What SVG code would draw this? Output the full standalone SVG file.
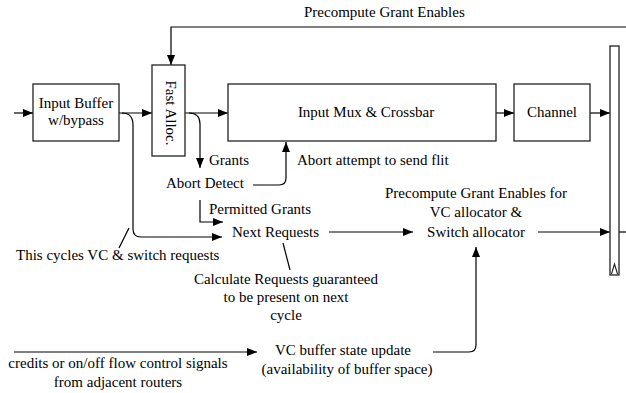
<svg xmlns="http://www.w3.org/2000/svg" width="626" height="393" viewBox="0 0 626 393">
  <style>
    .box { fill: #fff; stroke: #222; stroke-width: 1.3; }
    .ln { fill: none; stroke: #000; stroke-width: 1.2; }
    .arr { marker-end: url(#ah); }
    text { font-family: "Liberation Serif", "Times New Roman", serif; font-size: 15px; fill: #000; }
    .c { text-anchor: middle; }
  </style>
  <defs>
    <marker id="ah" viewBox="0 0 10 8" refX="10" refY="4" markerWidth="10" markerHeight="8" markerUnits="userSpaceOnUse" orient="auto">
      <path d="M0,0 L10,4 L0,8 Z" fill="#000"/>
    </marker>
  </defs>

  <rect width="626" height="393" fill="#fff"/>

  <g id="connectors">
    <!-- main datapath -->
    <line class="ln arr" x1="14" y1="113" x2="33" y2="113"/>
    <line class="ln arr" x1="119" y1="113" x2="152" y2="113"/>
    <line class="ln arr" x1="185" y1="113" x2="228" y2="113"/>
    <line class="ln arr" x1="496" y1="113" x2="514" y2="113"/>
    <line class="ln arr" x1="590" y1="113" x2="610" y2="113"/>
    <!-- feedback from the right to Fast Alloc -->
    <path class="ln arr" d="M626,27 L171,27 L171,65"/>
    <!-- buffer bypass requests -->
    <path class="ln arr" d="M122,113 Q133,113 133,125 L133,229 Q133,237 141,237 L222,237"/>
    <!-- grants -->
    <path class="ln arr" d="M189,113 Q200,113 200,124 L200,168"/>
    <!-- abort -->
    <path class="ln arr" d="M253,185 L279,185 Q286,185 286,178 L286,142"/>
    <!-- permitted grants -->
    <path class="ln arr" d="M200,200 L200,222 L223,222"/>
    <!-- next requests to precompute -->
    <line class="ln arr" x1="329" y1="232" x2="413" y2="232"/>
    <line class="ln arr" x1="538" y1="232" x2="610" y2="232"/>
    <line class="ln" x1="619" y1="232" x2="626" y2="232"/>
    <!-- credits -->
    <line class="ln arr" x1="14" y1="352" x2="257" y2="352"/>
    <!-- buffer state update -->
    <path class="ln arr" d="M433,352 L469,352 Q476,352 476,345 L476,247"/>
    <!-- annotation pointers -->
    <line class="ln" x1="119" y1="248" x2="129" y2="228"/>
    <line class="ln" x1="283" y1="243" x2="290" y2="270"/>
  </g>

  <g id="input-buffer">
    <rect class="box" x="33" y="84" width="86" height="57"/>
    <text class="c" x="76" y="108">Input Buffer</text>
    <text class="c" x="76" y="125">w/bypass</text>
  </g>

  <g id="fast-alloc">
    <rect class="box" x="152" y="65" width="33" height="91"/>
    <text class="c" transform="translate(168.5,113) rotate(90)" y="2.5">Fast Alloc.</text>
  </g>

  <g id="input-mux">
    <rect class="box" x="228" y="84" width="268" height="57"/>
    <text class="c" x="366" y="117">Input Mux &amp; Crossbar</text>
  </g>

  <g id="channel">
    <rect class="box" x="514" y="84" width="76" height="57"/>
    <text class="c" x="552" y="117">Channel</text>
  </g>

  <g id="pipeline-register">
    <rect class="box" x="610" y="46" width="9" height="229"/>
    <path d="M611.5,274 L614.5,264 L617.5,274" fill="none" stroke="#222" stroke-width="1.1"/>
  </g>

  <g id="labels">
    <text x="304" y="17">Precompute Grant Enables</text>
    <text x="209" y="165">Grants</text>
    <text x="297" y="165">Abort attempt to send flit</text>
    <text x="166" y="188">Abort Detect</text>
    <text x="209" y="214">Permitted Grants</text>
    <text x="232" y="237">Next Requests</text>
    <text x="16" y="260">This cycles VC &amp; switch requests</text>
    <text class="c" x="286" y="284">Calculate Requests guaranteed</text>
    <text class="c" x="286" y="302">to be present on next</text>
    <text class="c" x="286" y="320">cycle</text>
    <text class="c" x="476" y="198">Precompute Grant Enables for</text>
    <text class="c" x="476" y="217">VC allocator &amp;</text>
    <text class="c" x="476" y="237">Switch allocator</text>
    <text class="c" x="343" y="355">VC buffer state update</text>
    <text class="c" x="347" y="374">(availability of buffer space)</text>
    <text class="c" x="118" y="368">credits or on/off flow control signals</text>
    <text class="c" x="118" y="387">from adjacent routers</text>
  </g>
</svg>
